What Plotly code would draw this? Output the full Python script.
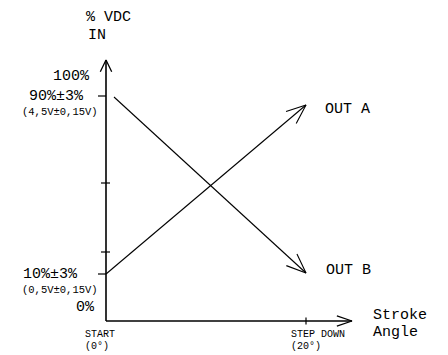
import math
import plotly.graph_objects as go

# ---- data (schematic units: x in degrees of stroke, y in axis level units) ----
out_a_x = [0, 20]
out_a_y = [18.8, 86.4]
out_b_x = [0.8, 20]
out_b_y = [89.6, 19.2]

x_axis_end = 24.6
y_axis_end = 104.4

y_tick_vals = [90, 55.2, 27.6, 18.8]
x_tick_vals = [20]

y_main_labels = ["100%", "90%±3%", "10%±3%", "0%"]
y_main_label_pos = [98, 90, 18.8, 0]
y_sub_labels = ["(4,5V±0,15V)", "(0,5V±0,15V)"]
y_sub_label_pos = [90, 18.8]

x_labels = [["START", "(0°)"], ["STEP DOWN", "(20°)"]]
x_label_pos = [0, 20]

series_names = ["OUT A", "OUT B"]
axis_titles = ["% VDC", "IN", "Stroke", "Angle"]

# ---- geometry ----
W, H = 448, 355
ORIGIN_PX = (106, 321)
SX, SY = 10.0, 2.5  # pixels per unit
x_range = [-ORIGIN_PX[0] / SX, (W - ORIGIN_PX[0]) / SX]
y_range = [-(H - ORIGIN_PX[1]) / SY, ORIGIN_PX[1] / SY]

FONT = "Liberation Mono"
INK = "black"


def head(x0, y0, x1, y1, length, half_deg):
    ang = math.atan2((y1 - y0) * SY, (x1 - x0) * SX)
    h = math.radians(half_deg)
    xs, ys = [], []
    for s in (1, -1):
        a = ang + math.pi + s * h
        xs.append(x1 + length * math.cos(a) / SX)
        ys.append(y1 + length * math.sin(a) / SY)
    return [xs[0], x1, xs[1]], [ys[0], y1, ys[1]]


fig = go.Figure()


def seg(xs, ys, w):
    fig.add_trace(go.Scatter(x=xs, y=ys, mode="lines",
                             line=dict(color=INK, width=w),
                             hoverinfo="skip", showlegend=False,
                             cliponaxis=False))


# axes
seg([0, 0], [0, y_axis_end], 1.6)
seg([0, x_axis_end], [0, 0], 1.6)
hx, hy = head(0, 0, 0, y_axis_end, 13, 26)
seg(hx, hy, 1.3)
hx, hy = head(0, 0, x_axis_end, 0, 16, 19)
seg(hx, hy, 1.3)

# ticks
for i, v in enumerate(y_tick_vals):
    if v in (y_main_label_pos[1], y_main_label_pos[2]):
        seg([-8 / SX, 0], [v, v], 1.2)
    else:
        seg([-5 / SX, 4 / SX], [v, v], 1.2)
for v in x_tick_vals:
    seg([v, v], [-3.5 / SY, 3.5 / SY], 1.2)

# series
for xs, ys in ((out_a_x, out_a_y), (out_b_x, out_b_y)):
    seg(xs, ys, 1.1)
    hx, hy = head(xs[-2], ys[-2], xs[-1], ys[-1], 21, 22)
    seg(hx, hy, 1.1)

ann = []


def text(t, x, y, size, xanchor="left", xshift=0, yshift=0):
    ann.append(dict(text=t, x=x, y=y, xref="x", yref="y", showarrow=False,
                    xanchor=xanchor, yanchor="middle", xshift=xshift,
                    yshift=yshift, font=dict(family=FONT, size=size, color=INK)))


# y labels
shifts = [(-14, 0), (-20, 0), (-26, 0), (-9, 14)]
for t, p, (xs_, ys_) in zip(y_main_labels, y_main_label_pos, shifts):
    text(t, 0, p, 15, "right", xs_, ys_)
for t, p in zip(y_sub_labels, y_sub_label_pos):
    text(t, 0, p, 10.5, "right", -6, -16)

# x labels
for (t1, t2), p in zip(x_labels, x_label_pos):
    text(t1, p, 0, 10, "left", -23 if p == 0 else -17, -13)
    text(t2, p, 0, 10, "left", -23 if p == 0 else -17, -25)

# series labels
text(series_names[0], out_a_x[-1], out_a_y[-1], 15, "left", 17, -4)
text(series_names[1], out_b_x[-1], out_b_y[-1], 15, "left", 18, 3)

# axis titles
text(axis_titles[0], 0, y_axis_end, 15, "left", -22, 43)
text(axis_titles[1], 0, y_axis_end, 15, "left", -20, 25)
text(axis_titles[2], x_axis_end, 0, 15, "left", 19, 6)
text(axis_titles[3], x_axis_end, 0, 15, "left", 19, -11)

fig.update_layout(
    width=W, height=H,
    margin=dict(l=0, r=0, t=0, b=0),
    paper_bgcolor="white", plot_bgcolor="white",
    xaxis=dict(range=x_range, visible=False, fixedrange=True),
    yaxis=dict(range=y_range, visible=False, fixedrange=True),
    annotations=ann,
    showlegend=False,
)

fig.write_html(
    "out.html",
    config={"displayModeBar": False},
    post_script="document.body.style.margin='0';document.body.style.overflow='hidden';",
)
